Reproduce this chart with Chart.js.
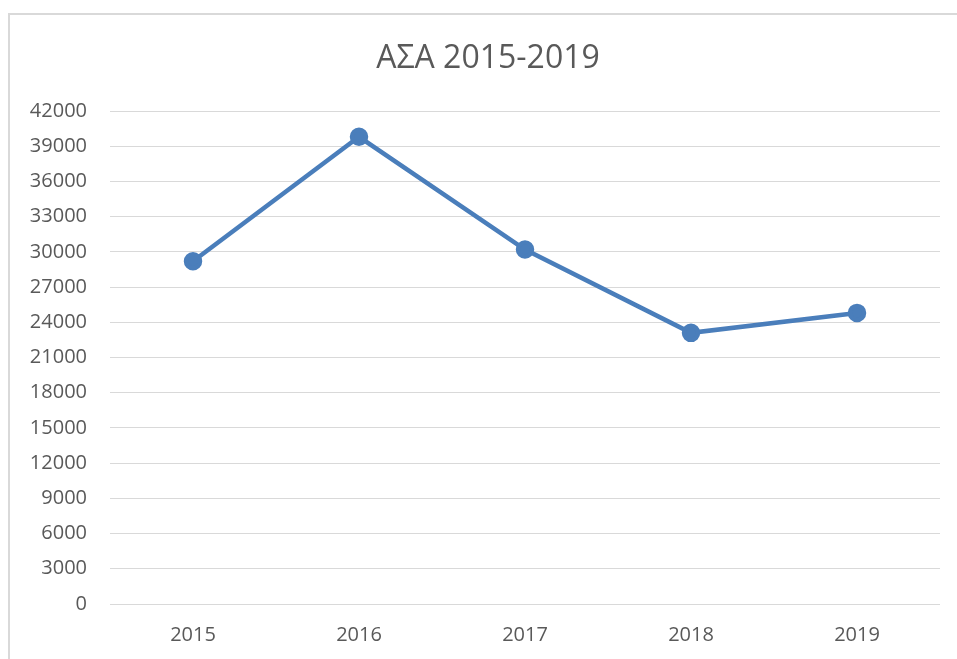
<!DOCTYPE html>
<html>
<head>
<meta charset="utf-8">
<script src="https://cdn.jsdelivr.net/npm/chart.js@4/dist/chart.umd.min.js"></script>
<style>
  html, body { margin: 0; padding: 0; background: #fff; overflow: hidden; }
  .frame { position: absolute; left: 8px; top: 13px; width: 1000px; height: 700px;
           border-left: 2px solid #d9d9d9; border-top: 2px solid #d9d9d9; }
  .wrap { position: absolute; left: 0; top: 0; width: 957px; height: 659px; }
</style>
</head>
<body>
<div class="frame"></div>
<div class="wrap"><canvas id="grafico"></canvas></div>
<script>
// Datos del gráfico
const titulo = 'ΑΣΑ 2015-2019';
const anios = ['2015', '2016', '2017', '2018', '2019'];
const valores = [29200, 39800, 30200, 23100, 24800];
const ejeMin = 0;
const ejeMax = 42000;
const ejePaso = 3000;

const gris = '#595959';
const azul = '#4a7ebb';

// Título dibujado a mano (centrado como en el original, no sobre el canvas)
const tituloPlugin = {
  id: 'tituloPlugin',
  afterDraw(chart) {
    const c = chart.ctx;
    c.save();
    c.fillStyle = gris;
    c.font = '32px "Open Sans"';
    c.textAlign = 'center';
    c.textBaseline = 'middle';
    c.fillText(titulo, 488, 59);
    c.restore();
  }
};

const ctx = document.getElementById('grafico').getContext('2d');
new Chart(ctx, {
  type: 'line',
  data: {
    labels: anios,
    datasets: [{
      label: titulo,
      data: valores,
      borderColor: azul,
      backgroundColor: azul,
      borderWidth: 4.5,
      pointRadius: 7,
      pointHoverRadius: 7,
      pointBackgroundColor: azul,
      pointBorderColor: azul,
      tension: 0,
      fill: false
    }]
  },
  options: {
    responsive: true,
    maintainAspectRatio: false,
    animation: false,
    layout: { padding: { left: 0, right: 17, top: 111, bottom: 12 } },
    plugins: {
      legend: { display: false },
      tooltip: { enabled: false },
      title: { display: false }
    },
    scales: {
      x: {
        offset: true,
        afterFit: (scale) => { scale.height = 43; },
        grid: { display: false, drawTicks: false },
        border: { display: false },
        ticks: { color: gris, padding: 19, maxRotation: 0, font: { family: 'Open Sans', size: 20 } }
      },
      y: {
        min: ejeMin,
        max: ejeMax,
        afterFit: (scale) => { scale.width = 110; },
        grid: { color: '#d9d9d9', lineWidth: 1, drawTicks: false },
        border: { display: false },
        ticks: {
          stepSize: ejePaso,
          color: gris,
          padding: 23,
          font: { family: 'Open Sans', size: 20 },
          callback: (v) => String(v)
        }
      }
    }
  },
  plugins: [tituloPlugin]
});
</script>
</body>
</html>
